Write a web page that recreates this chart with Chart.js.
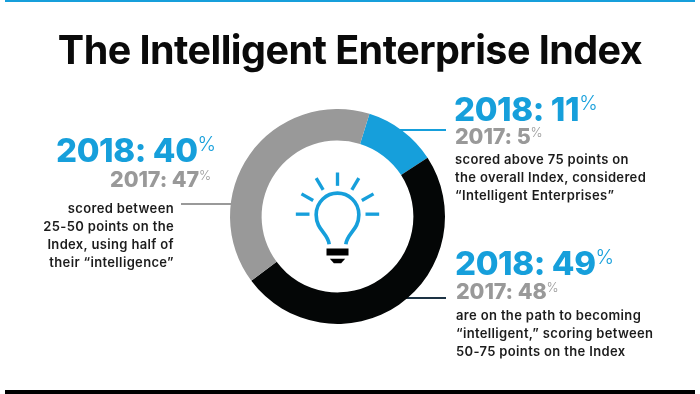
<!DOCTYPE html>
<html>
<head>
<meta charset="utf-8">
<script src="https://cdn.jsdelivr.net/npm/chart.js@4"></script>
<style>
html, body { margin: 0; padding: 0; background: #fff; }
#wrap { position: relative; width: 700px; height: 394px; overflow: hidden; font-family: Inter, sans-serif; }
#donut { position: absolute; left: 0; top: 0; }
.t { position: absolute; white-space: nowrap; line-height: 1; }
.title { left: 0; width: 700px; text-align: center; top: 31px; font-size: 39.5px; font-weight: 700; color: #0a0a0a; letter-spacing: -0.55px; }
.big { font-size: 33px; font-weight: 800; color: #169fdb; letter-spacing: -0.4px; }
.old { font-size: 21.5px; font-weight: 800; color: #999; letter-spacing: -0.1px; }
.pc { font-weight: 300; font-size: 0.6em; position: relative; top: -0.55em; }
.body { font-size: 13px; font-weight: 600; color: #1c1c1c; line-height: 18px; white-space: pre; letter-spacing: 0.35px; }
.r { text-align: right; }
</style>
</head>
<body>
<div id="wrap">
  <canvas id="donut" width="700" height="394"></canvas>
  <div class="t title">The Intelligent Enterprise Index</div>
  <div id="labels"></div>
</div>
<script>
// 値
const categories = ['above 75', '50-75', '25-50'];
const values2018 = [11, 49, 40];
const values2017 = [5, 48, 47];
const sliceColors = ['#169fdb', '#040606', '#999999'];
const notes = [
    'scored above 75 points on\nthe overall Index, considered\n“Intelligent Enterprises”',
    'are on the path to becoming\n“intelligent,” scoring between\n50-75 points on the Index',
    'scored between\n25-50 points on the\nIndex, using half of\ntheir “intelligence”'
];

// ラベル
const labelPos = [
    { x: 454, big: 93, old: 126, body: 150 },
    { x: 455, big: 247, old: 281, body: 306 },
    { x: 56, oldRight: 211, bodyRight: 174, big: 134, old: 169, body: 199 }
];

const labels = document.getElementById('labels');
categories.forEach((c, i) => {
    const p = labelPos[i];
    const left = i < 2;
    labels.innerHTML += `
        <div class="t big" style="left:${p.x}px;top:${p.big}px">2018: ${values2018[i]}<span class="pc">%</span></div>
        <div class="t old" style="${left ? 'left:' + (p.x + 1) + 'px' : 'right:' + (700 - p.oldRight) + 'px'};top:${p.old}px">2017: ${values2017[i]}<span class="pc">%</span></div>
        <div class="t body ${left ? '' : 'r'}" style="${left ? 'left:' + (p.x + 1) + 'px' : 'right:' + (700 - p.bodyRight) + 'px'};top:${p.body}px">${notes[i]}</div>`;
});

// 引き出し線とバーと電球
const decorations = {
    id: 'decorations',
    beforeDatasetsDraw(chart) {
        const ctx = chart.ctx;
        ctx.save();
        ctx.fillStyle = '#169fdb';
        ctx.fillRect(5, 0, 690, 2);
        ctx.fillStyle = '#000';
        ctx.fillRect(5, 390, 690, 4);
        ctx.fillStyle = '#169fdb';
        ctx.fillRect(400, 129, 46, 2);
        ctx.fillStyle = '#1d3344';
        ctx.fillRect(400, 297, 46, 2);
        ctx.fillStyle = '#999';
        ctx.fillRect(181, 203, 54, 2);
        ctx.restore();
    },
    afterDatasetsDraw(chart) {
        const ctx = chart.ctx;
        const a = chart.chartArea;
        const cx = (a.left + a.right) / 2;
        const cy = (a.top + a.bottom) / 2;
        ctx.save();
        ctx.translate(cx, cy);
        ctx.scale(1 / 3, 1 / 3);
        ctx.translate(-322, -380);
        ctx.strokeStyle = '#169fdb';
        ctx.lineWidth = 10;
        const rays = [[322, 248, 322, 288], [258, 265, 279, 300], [386, 265, 365, 300], [214, 312, 249, 332], [430, 312, 395, 332], [197, 373, 238, 373], [447, 373, 406, 373]];
        rays.forEach(r => {
            ctx.beginPath();
            ctx.moveTo(r[0], r[1]);
            ctx.lineTo(r[2], r[3]);
            ctx.stroke();
        });
        ctx.lineWidth = 11;
        ctx.beginPath();
        ctx.moveTo(297, 463);
        ctx.bezierCurveTo(293, 430, 258, 420, 258, 375);
        ctx.bezierCurveTo(258, 335, 290, 310, 322, 310);
        ctx.bezierCurveTo(354, 310, 386, 335, 386, 375);
        ctx.bezierCurveTo(386, 420, 351, 430, 347, 463);
        ctx.stroke();
        ctx.fillStyle = '#000';
        ctx.fillRect(289, 476, 66, 21);
        ctx.beginPath();
        ctx.moveTo(299, 507);
        ctx.lineTo(345, 507);
        ctx.lineTo(333, 520);
        ctx.lineTo(311, 520);
        ctx.closePath();
        ctx.fill();
        ctx.restore();
    }
};

new Chart(document.getElementById('donut'), {
    type: 'doughnut',
    data: {
        labels: categories,
        datasets: [{
            data: values2018,
            backgroundColor: sliceColors,
            borderWidth: 0
        }]
    },
    options: {
        responsive: false,
        animation: false,
        rotation: 17.3,
        cutout: '70.6%',
        layout: { padding: { left: 230, right: 255, top: 109, bottom: 70 } },
        plugins: { legend: { display: false }, tooltip: { enabled: false } }
    },
    plugins: [decorations]
});
</script>
</body>
</html>
